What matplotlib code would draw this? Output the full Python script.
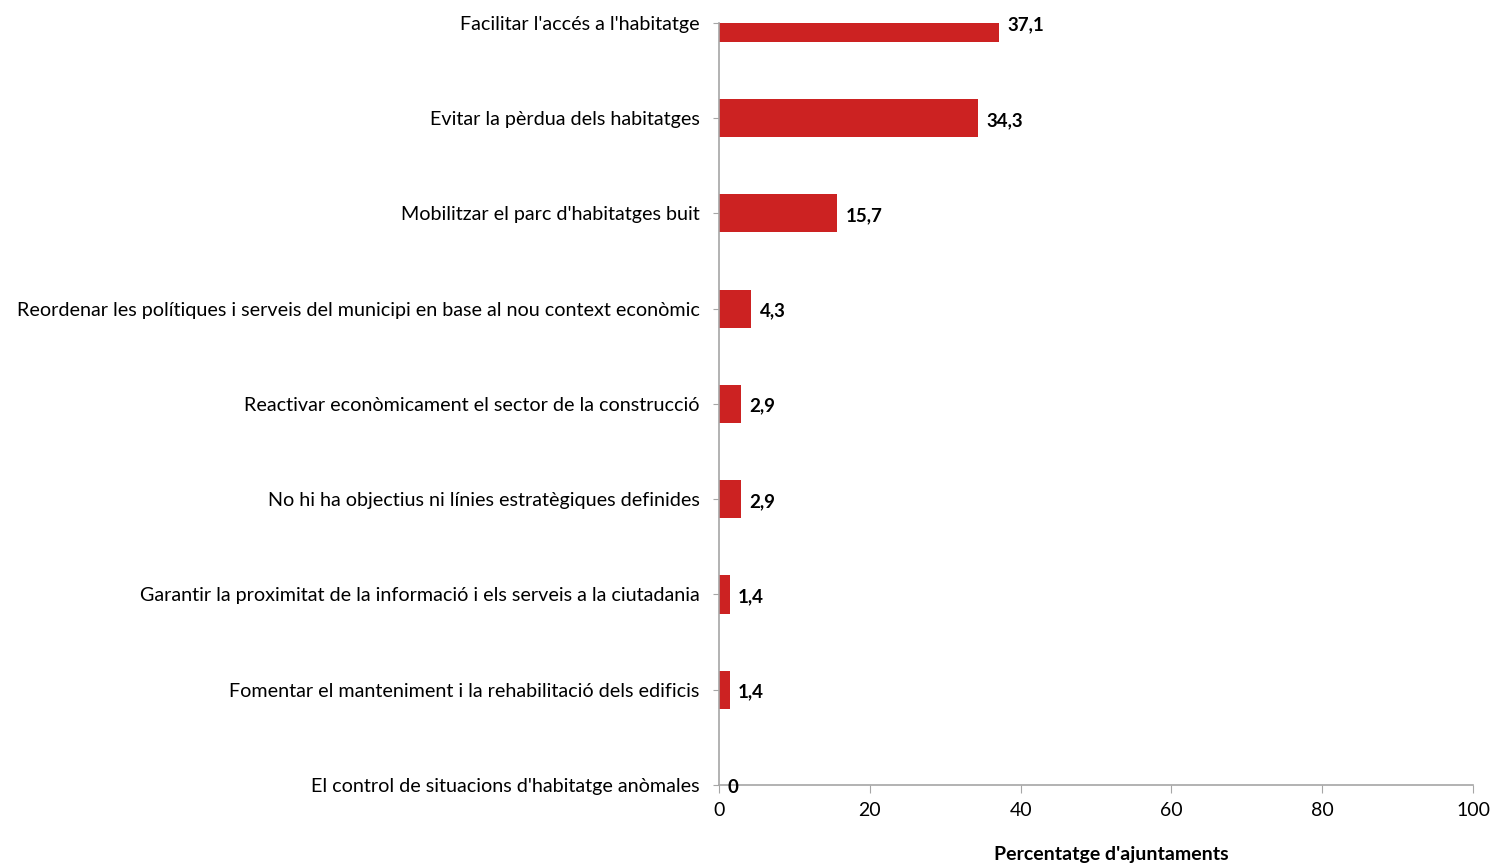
import matplotlib.pyplot as plt

plt.rcParams['font.family'] = ['Lato', 'DejaVu Sans']

# categories from bottom to top
categories = [
    "El control de situacions d'habitatge anòmales",
    "Fomentar el manteniment i la rehabilitació dels edificis",
    "Garantir la proximitat de la informació i els serveis a la ciutadania",
    "No hi ha objectius ni línies estratègiques definides",
    "Reactivar econòmicament el sector de la construcció",
    "Reordenar les polítiques i serveis del municipi en base al nou context econòmic",
    "Mobilitzar el parc d'habitatges buit",
    "Evitar la pèrdua dels habitatges",
    "Facilitar l'accés a l'habitatge",
]
values = [0, 1.4, 1.4, 2.9, 2.9, 4.3, 15.7, 34.3, 37.1]
labels = ["0", "1,4", "1,4", "2,9", "2,9", "4,3", "15,7", "34,3", "37,1"]
xticks = [0, 20, 40, 60, 80, 100]

fig = plt.figure(figsize=(14.93, 8.65), dpi=100)
ax = fig.add_axes([0.4816, 0.0925, 0.505, 0.881])

pos = list(range(len(categories)))
ax.barh(pos, values, height=0.4, color='#CC2222', zorder=2)

for p, v, lab in zip(pos, values, labels):
    ax.annotate(lab, (v, p), xytext=(6, -1.5), textcoords='offset points',
                va='center', ha='left', fontsize=13.5, fontweight='bold', color='black')

ax.set_xlim(0, 100)
ax.set_ylim(0, 8)
ax.set_xticks(xticks)
ax.set_xticklabels([str(t) for t in xticks], fontsize=14)
ax.set_yticks(pos)
ax.set_yticklabels(categories, fontsize=14.2)

for s in ['top', 'right']:
    ax.spines[s].set_visible(False)
for s in ['left', 'bottom']:
    ax.spines[s].set_color('#A6A6A6')
    ax.spines[s].set_linewidth(1.2)
ax.tick_params(axis='x', colors='#A6A6A6', length=6, labelcolor='black', pad=6)
ax.tick_params(axis='y', colors='#A6A6A6', length=4, labelcolor='black', pad=10)

ax.set_xlabel("Percentatge d'ajuntaments", fontsize=14, fontweight='bold')
ax.xaxis.set_label_coords(0.52, -0.08)

fig.savefig('out.png', dpi=100)
